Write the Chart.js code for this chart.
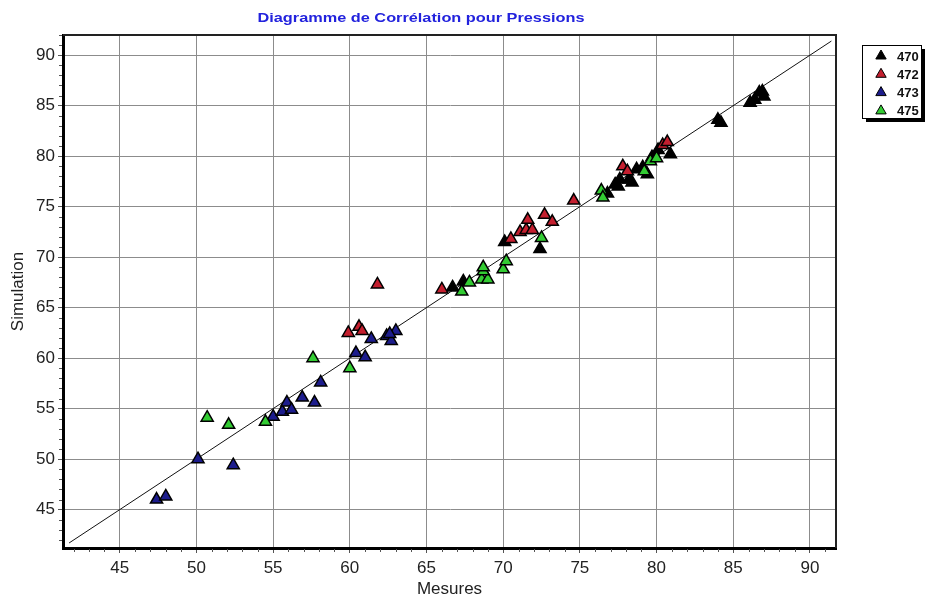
<!DOCTYPE html>
<html><head><meta charset="utf-8">
<script src="https://cdn.jsdelivr.net/npm/chart.js@4/dist/chart.umd.min.js"></script>
<style>html,body{margin:0;padding:0;background:#fff;} #wrap{width:928px;height:598px;position:relative;}</style>
</head><body><div id="wrap"><canvas id="c" width="928" height="598"></canvas></div>
<script>
const titleText = 'Diagramme de Corrélation pour Pressions';
const xTitle = 'Mesures';
const yTitle = 'Simulation';
const seriesNames = ['470', '472', '473', '475'];
const seriesColors = ['#000000', '#c41f2f', '#1c1c8c', '#33cc33'];

const s470x = [66.7, 67.4, 70.1, 72.4, 76.8, 77.3, 77.5, 77.6, 78.2, 78.4, 78.7, 79.1, 79.4, 79.7, 80.1, 80.9, 84.0, 84.2, 86.1, 86.4, 86.7, 87.0, 86.9];
const s470y = [67.0, 67.6, 71.5, 70.8, 76.3, 77.2, 77.0, 77.7, 77.7, 77.4, 78.7, 78.9, 78.2, 79.9, 80.6, 80.2, 83.6, 83.3, 85.3, 85.6, 86.3, 85.9, 86.4];

const s472x = [59.9, 60.6, 60.8, 61.8, 66.0, 70.5, 71.1, 71.5, 71.9, 71.6, 72.7, 73.2, 74.6, 77.8, 78.1, 80.4, 80.7];
const s472y = [62.5, 63.1, 62.7, 67.3, 66.8, 71.8, 72.5, 72.7, 72.7, 73.7, 74.2, 73.5, 75.6, 79.0, 78.5, 81.1, 81.4];

const s473x = [47.4, 48.0, 50.1, 52.4, 55.0, 55.6, 55.9, 56.2, 56.9, 57.7, 58.1, 60.4, 61.0, 61.4, 62.4, 62.7, 63.0, 62.6];
const s473y = [46.0, 46.3, 50.0, 49.4, 54.2, 54.7, 55.6, 54.9, 56.1, 55.6, 57.6, 60.5, 60.1, 61.9, 62.2, 61.7, 62.7, 62.4];

const s475x = [50.7, 52.1, 54.5, 57.6, 60.0, 67.3, 67.8, 68.6, 69.0, 68.7, 68.7, 70.0, 70.2, 72.5, 76.4, 76.5, 79.2, 79.6, 80.0];
const s475y = [54.1, 53.4, 53.7, 60.0, 59.0, 66.6, 67.5, 67.8, 67.8, 68.6, 69.0, 68.8, 69.6, 71.9, 76.6, 75.9, 78.5, 79.5, 79.8];

const tickValues = [45, 50, 55, 60, 65, 70, 75, 80, 85, 90];
const diagonalEnds = [41.7, 91.4];
const xRange = [41.3, 91.7];
const yRange = [41.2, 92.0];

const xs = [s470x, s472x, s473x, s475x];
const ys = [s470y, s472y, s473y, s475y];
const toPts = (a, b) => a.map((v, i) => ({x: v, y: b[i]}));
const FONT = "'Liberation Sans', Arial, sans-serif";

const datasets = seriesNames.map((n, i) => ({
  label: n,
  data: toPts(xs[i], ys[i]),
  pointStyle: 'triangle',
  pointRadius: 7,
  pointHoverRadius: 7,
  pointBackgroundColor: seriesColors[i],
  pointBorderColor: '#000',
  pointBorderWidth: 1.5,
  showLine: false,
  order: 4 - i
}));
datasets.push({
  type: 'line',
  label: 'diag',
  data: diagonalEnds.map(v => ({x: v, y: v})),
  borderColor: '#111',
  borderWidth: 1,
  pointRadius: 0,
  fill: false,
  order: 10
});

const decor = {
  id: 'decor',
  afterDraw(chart) {
    const ctx = chart.ctx, a = chart.chartArea;
    const xS = chart.scales.x, yS = chart.scales.y;
    ctx.save();
    // frame top/right
    ctx.strokeStyle = '#222'; ctx.lineWidth = 2;
    ctx.beginPath();
    ctx.moveTo(a.left, a.top); ctx.lineTo(a.right, a.top); ctx.lineTo(a.right, a.bottom);
    ctx.stroke();
    // minor ticks
    ctx.strokeStyle = '#555'; ctx.lineWidth = 1;
    ctx.beginPath();
    for (let v = Math.ceil(yRange[0]); v <= yRange[1]; v++) {
      if (v % 5 === 0) continue;
      const p = Math.round(yS.getPixelForValue(v)) + 0.5;
      ctx.moveTo(a.left - 4, p); ctx.lineTo(a.left - 1, p);
    }
    for (let v = Math.ceil(xRange[0]); v <= xRange[1]; v++) {
      if (v % 5 === 0) continue;
      const p = Math.round(xS.getPixelForValue(v)) + 0.5;
      ctx.moveTo(p, a.bottom + 1); ctx.lineTo(p, a.bottom + 4);
    }
    ctx.stroke();
    // title (stretched horizontally like the reference)
    ctx.fillStyle = '#2222dd';
    ctx.font = 'bold 13px ' + FONT;
    ctx.textAlign = 'center'; ctx.textBaseline = 'middle';
    const tw = ctx.measureText(titleText).width;
    const sx = 327 / tw;
    ctx.save();
    ctx.translate(421, 18);
    ctx.scale(sx, 1);
    ctx.fillText(titleText, 0, 0);
    ctx.restore();
    // legend
    const L = 862, T = 45, W = 59, H = 73;
    ctx.fillStyle = '#000';
    ctx.fillRect(L + 4, T + 4, W, H);
    ctx.fillStyle = '#fff';
    ctx.fillRect(L, T, W, H);
    ctx.strokeStyle = '#000'; ctx.lineWidth = 1;
    ctx.strokeRect(L + 0.5, T + 0.5, W, H);
    ctx.font = 'bold 13px ' + FONT;
    ctx.textAlign = 'left'; ctx.textBaseline = 'middle';
    seriesNames.forEach((n, i) => {
      const y = T + 11 + i * 18.3;
      ctx.fillStyle = seriesColors[i];
      ctx.strokeStyle = '#000';
      ctx.lineWidth = 1;
      Chart.helpers.drawPoint(ctx, {pointStyle: 'triangle', radius: 6, borderWidth: 1}, 881, y);
      ctx.fillStyle = '#111';
      ctx.fillText(n, 897, y + 1);
    });
    ctx.restore();
  }
};

new Chart(document.getElementById('c'), {
  type: 'scatter',
  data: {datasets},
  options: {
    responsive: false,
    devicePixelRatio: 1,
    animation: false,
    layout: {padding: {top: 35, right: 92, left: 0, bottom: 0}},
    plugins: {legend: {display: false}, tooltip: {enabled: false}, title: {display: false}},
    scales: {
      x: {
        type: 'linear', min: xRange[0], max: xRange[1],
        afterFit: s => { s.height = 50; },
        afterBuildTicks: s => { s.ticks = tickValues.map(v => ({value: v})); },
        ticks: {font: {family: FONT, size: 17}, color: '#222', padding: 5, autoSkip: false, maxRotation: 0},
        grid: {color: '#8c8c8c', lineWidth: 1, drawTicks: true, tickLength: 5, tickColor: '#555'},
        border: {display: true, color: '#000', width: 3},
        title: {display: true, text: xTitle, font: {family: FONT, size: 17}, color: '#222', padding: {top: 0, bottom: -2}}
      },
      y: {
        type: 'linear', min: yRange[0], max: yRange[1],
        afterFit: s => { s.width = 63; },
        afterBuildTicks: s => { s.ticks = tickValues.map(v => ({value: v})); },
        ticks: {font: {family: FONT, size: 17}, color: '#222', padding: 3, autoSkip: false},
        grid: {color: '#8c8c8c', lineWidth: 1, drawTicks: true, tickLength: 5, tickColor: '#555'},
        border: {display: true, color: '#000', width: 3},
        title: {display: true, text: yTitle, font: {family: FONT, size: 17}, color: '#222', padding: {top: 8, bottom: 0}}
      }
    }
  },
  plugins: [decor]
});
</script></body></html>
